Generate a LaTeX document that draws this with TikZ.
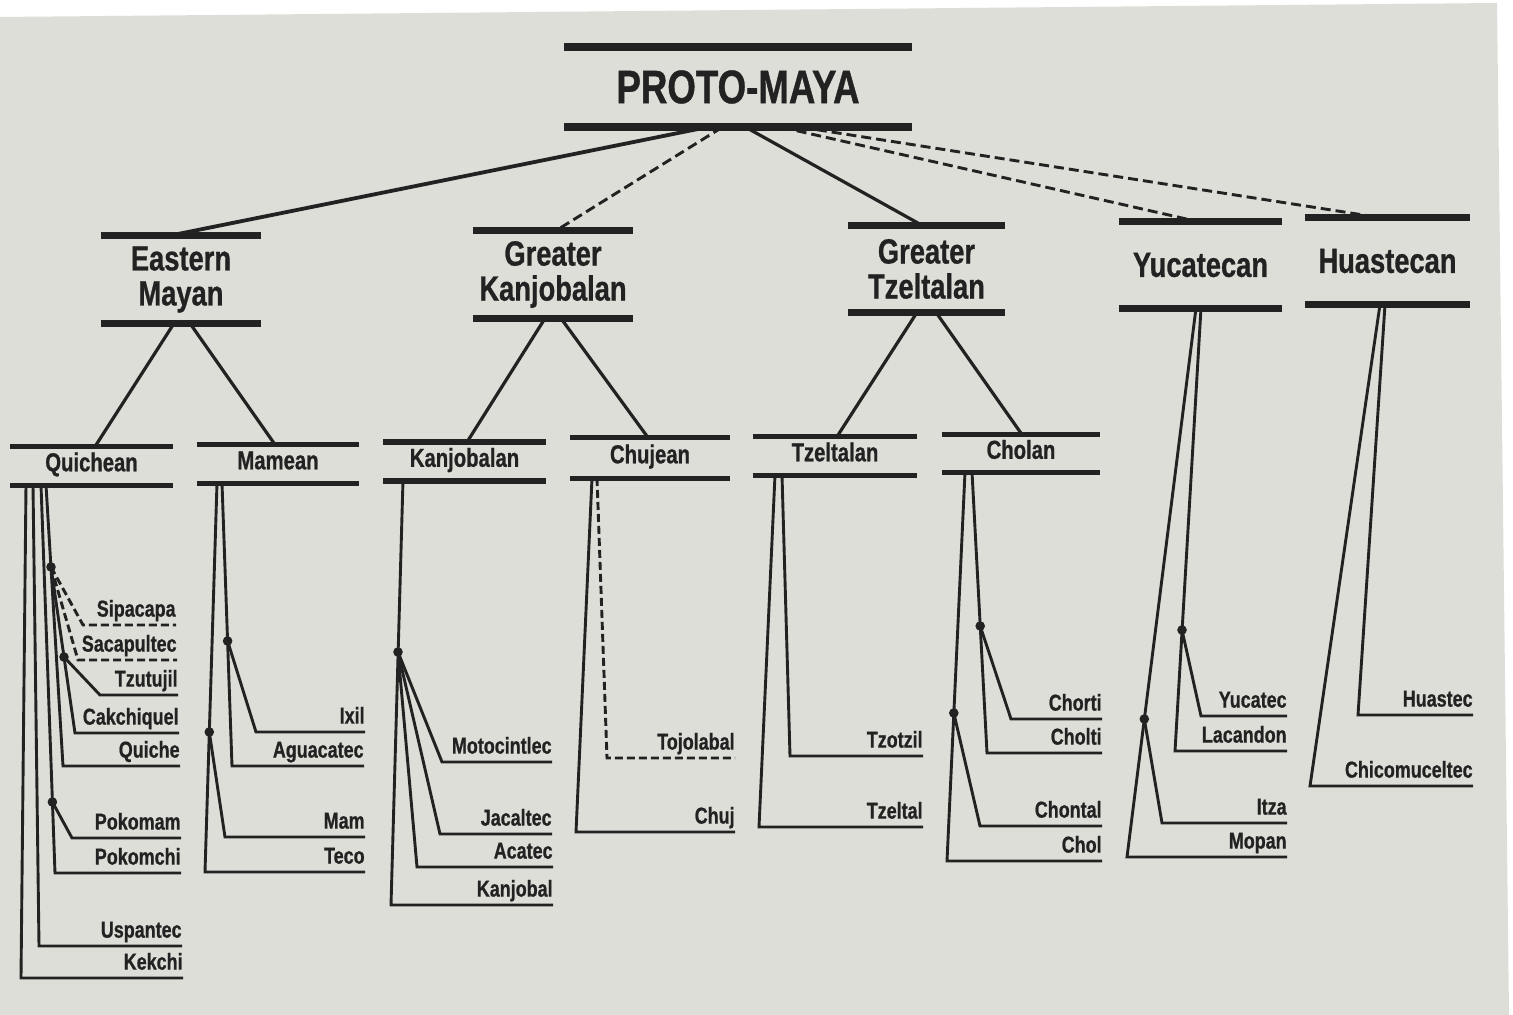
\documentclass[tikz,border=0pt]{standalone}
\usepackage{fontspec}
\setmainfont[FakeStretch=0.78,BoldFeatures={FakeBold=0.8}]{Liberation Sans}
\definecolor{paper}{RGB}{222,222,216}
\definecolor{ink}{RGB}{34,34,34}
\begin{document}
\begin{tikzpicture}[x=0.5pt,y=-0.5pt,
    bar/.style={ink,line width=3.2pt},
    twig/.style={ink,line width=1.45pt},
    guess/.style={twig,dash pattern=on 4pt off 2pt},
    tier/.style 2 args={inner sep=0pt,minimum width=#1pt,minimum height=#2pt,text=ink,align=center},
    root/.style={tier={174}{40},font=\bfseries\fontsize{23.5}{24}\selectfont},
    clade/.style={tier={80}{43.5},font=\bfseries\fontsize{17.5}{17.5}\selectfont},
    family/.style={tier={81}{19},text height=0.73em,text depth=0.2em,font=\bfseries\fontsize{13}{13}\selectfont},
    tongue/.style={anchor=south east,inner xsep=0pt,inner ysep=4pt,text depth=0pt,text=ink,font=\bfseries\fontsize{11.5}{12}\selectfont}]
    \fill[white] (0,0) rectangle (1513,1015) ;
    \fill[paper] (0,17) -- (1497,3) -- (1509,1015) -- (0,1015) -- cycle ;
    \useasboundingbox (0,0) rectangle (1513,1015) ;

    \node[root] (proto) at (738,87) {PROTO-MAYA} ;
    \node[clade] (eastern) at (181,279.5) {Eastern\\Mayan} ;
    \node[clade] (gkanjob) at (553,274.5) {Greater\\Kanjobalan} ;
    \node[clade,tier={78.5}{43}] (gtzeltal) at (926.5,269) {Greater\\Tzeltalan} ;
    \node[clade,tier={81.5}{43}] (yucatecan) at (1200.5,265) {Yucatecan} ;
    \node[clade,tier={82.5}{43}] (huastecan) at (1387.5,261) {Huastecan} ;
    \node[family] (quichean) at (91.5,466) {Quichean} ;
    \node[family] (mamean) at (278,464) {Mamean} ;
    \node[family] (kanjobalan) at (464.5,461.5) {Kanjobalan} ;
    \node[family,tier={80}{20}] (chujean) at (650,458) {Chujean} ;
    \node[family,tier={82}{19}] (tzeltalan) at (835,456) {Tzeltalan} ;
    \node[family,tier={79}{18.5}] (cholan) at (1021,453.5) {Cholan} ;

    \draw[bar,line width=4pt] (proto.north west) -- (proto.north east) (proto.south west) -- (proto.south east) ;
    \foreach \n in {eastern,gkanjob,gtzeltal,yucatecan,huastecan}
      \draw[bar] (\n.north west) -- (\n.north east) (\n.south west) -- (\n.south east) ;
    \foreach \n in {quichean,mamean,kanjobalan,chujean,tzeltalan,cholan}
      \draw[bar,line width=2.9pt] (\n.north west) -- (\n.north east) (\n.south west) -- (\n.south east) ;

    \draw[twig,line width=1.9pt] ([xshift=-16pt]proto.south) -- ([xshift=-5.5pt]eastern.north) ;
    \draw[guess,dash pattern=on 5pt off 2.5pt] ([xshift=-8pt]proto.south) -- ([xshift=1.5pt]gkanjob.north) ;
    \draw[twig,line width=1.6pt] ([xshift=4pt]proto.south) -- ([xshift=-2pt]gtzeltal.north) ;
    \draw[guess,dash pattern=on 5pt off 2.5pt] ([xshift=22pt]proto.south) -- ([xshift=-1.25pt]yucatecan.north) ;
    \draw[guess,dash pattern=on 5pt off 2.5pt] ([xshift=32pt]proto.south) -- ([xshift=-3.75pt]huastecan.north) ;

    \draw[twig,line width=1.6pt] ([xshift=-3.5pt]eastern.south) -- ([xshift=1.75pt]quichean.north) ;
    \draw[twig,line width=1.6pt] ([xshift=4.5pt]eastern.south) -- ([xshift=-1.5pt]mamean.north) ;
    \draw[twig,line width=1.6pt] ([xshift=-4pt]gkanjob.south) -- ([xshift=1.25pt]kanjobalan.north) ;
    \draw[twig,line width=1.6pt] ([xshift=4pt]gkanjob.south) -- ([xshift=-1pt]chujean.north) ;
    \draw[twig,line width=1.6pt] ([xshift=-4.75pt]gtzeltal.south) -- ([xshift=1pt]tzeltalan.north) ;
    \draw[twig,line width=1.6pt] ([xshift=4.75pt]gtzeltal.south) -- ([xshift=0.5pt]cholan.north) ;

    % Quichean
    \coordinate (qa) at (26,485) ;
    \coordinate (qb) at (33,485) ;
    \coordinate (qc) at (41,485) ;
    \coordinate (qd) at (46,485) ;
    \coordinate (qk1) at (51,567) ;
    \coordinate (qk2) at (64,657) ;
    \coordinate (qk3) at (52.4,802) ;
    \node[tongue] (sipacapa) at (176,625) {Sipacapa} ;
    \node[tongue] (sacapultec) at (177,660) {Sacapultec} ;
    \node[tongue] (tzutujil) at (178,695) {Tzutujil} ;
    \node[tongue] (cakchiquel) at (179,733) {Cakchiquel} ;
    \node[tongue] (quiche) at (180,766) {Quiche} ;
    \node[tongue] (pokomam) at (181,838) {Pokomam} ;
    \node[tongue] (pokomchi) at (181,873) {Pokomchi} ;
    \node[tongue] (uspantec) at (182,946) {Uspantec} ;
    \node[tongue] (kekchi) at (183,978) {Kekchi} ;
    \draw[guess] (qk1) -- (83,625) -- (sipacapa.south east) ;
    \draw[guess] (qk1) -- (78,660) -- (sacapultec.south east) ;
    \draw[twig] (qk2) -- (100,695) -- (tzutujil.south east) ;
    \draw[twig] (qk1) -- (75,733) -- (cakchiquel.south east) ;
    \draw[twig] (qd) -- (63,766) -- (quiche.south east) ;
    \draw[twig] (qk3) -- (72,838) -- (pokomam.south east) ;
    \draw[twig] (qc) -- (55,873) -- (pokomchi.south east) ;
    \draw[twig] (qb) -- (39,946) -- (uspantec.south east) ;
    \draw[twig] (qa) -- (21,978) -- (kekchi.south east) ;

    % Mamean
    \coordinate (ma) at (217,483) ;
    \coordinate (mb) at (222,483) ;
    \coordinate (mk1) at (209.3,732) ;
    \coordinate (mk2) at (227.6,641) ;
    \node[tongue] (ixil) at (365,732) {Ixil} ;
    \node[tongue] (aguacatec) at (364,766) {Aguacatec} ;
    \node[tongue] (mam) at (365,837) {Mam} ;
    \node[tongue] (teco) at (365,872) {Teco} ;
    \draw[twig] (mk2) -- (256,732) -- (ixil.south east) ;
    \draw[twig] (mb) -- (232,766) -- (aguacatec.south east) ;
    \draw[twig] (mk1) -- (225,837) -- (mam.south east) ;
    \draw[twig] (ma) -- (205,872) -- (teco.south east) ;

    % Kanjobalan
    \coordinate (ka) at (403,480) ;
    \coordinate (kk) at (398,652) ;
    \node[tongue] (motocintlec) at (552,762) {Motocintlec} ;
    \node[tongue] (jacaltec) at (552,834) {Jacaltec} ;
    \node[tongue] (acatec) at (553,867) {Acatec} ;
    \node[tongue] (kanjobal) at (553,905) {Kanjobal} ;
    \draw[twig] (kk) -- (442,762) -- (motocintlec.south east) ;
    \draw[twig] (kk) -- (440,834) -- (jacaltec.south east) ;
    \draw[twig] (kk) -- (417,867) -- (acatec.south east) ;
    \draw[twig] (ka) -- (391,905) -- (kanjobal.south east) ;

    % Chujean
    \coordinate (ca) at (592,478) ;
    \coordinate (cb) at (597,478) ;
    \node[tongue] (tojolabal) at (735,758) {Tojolabal} ;
    \node[tongue] (chuj) at (735,832) {Chuj} ;
    \draw[guess] (cb) -- (607,758) -- (tojolabal.south east) ;
    \draw[twig] (ca) -- (576,832) -- (chuj.south east) ;

    % Tzeltalan
    \coordinate (ta) at (775,475) ;
    \coordinate (tb) at (782,475) ;
    \node[tongue] (tzotzil) at (923,756) {Tzotzil} ;
    \node[tongue] (tzeltal) at (923,827) {Tzeltal} ;
    \draw[twig] (tb) -- (790,756) -- (tzotzil.south east) ;
    \draw[twig] (ta) -- (759,827) -- (tzeltal.south east) ;

    % Cholan
    \coordinate (ha) at (965,472) ;
    \coordinate (hb) at (972,472) ;
    \coordinate (hk1) at (953.8,713) ;
    \coordinate (hk2) at (980.2,626) ;
    \node[tongue] (chorti) at (1102,719) {Chorti} ;
    \node[tongue] (cholti) at (1102,753) {Cholti} ;
    \node[tongue] (chontal) at (1102,826) {Chontal} ;
    \node[tongue] (chol) at (1102,861) {Chol} ;
    \draw[twig] (hk2) -- (1011,719) -- (chorti.south east) ;
    \draw[twig] (hb) -- (987,753) -- (cholti.south east) ;
    \draw[twig] (hk1) -- (980,826) -- (chontal.south east) ;
    \draw[twig] (ha) -- (947,861) -- (chol.south east) ;

    % Yucatecan
    \coordinate (ya) at (1196,308) ;
    \coordinate (yb) at (1201,308) ;
    \coordinate (yk1) at (1144.3,719) ;
    \coordinate (yk2) at (1182,630) ;
    \node[tongue] (yucatec) at (1287,716) {Yucatec} ;
    \node[tongue] (lacandon) at (1287,751) {Lacandon} ;
    \node[tongue] (itza) at (1287,823) {Itza} ;
    \node[tongue] (mopan) at (1287,857) {Mopan} ;
    \draw[twig] (yk2) -- (1201,716) -- (yucatec.south east) ;
    \draw[twig] (yb) -- (1175,751) -- (lacandon.south east) ;
    \draw[twig] (yk1) -- (1162,823) -- (itza.south east) ;
    \draw[twig] (ya) -- (1127,857) -- (mopan.south east) ;

    % Huastecan
    \coordinate (sa) at (1380,304.5) ;
    \coordinate (sb) at (1385,304.5) ;
    \node[tongue] (huastec) at (1473,715) {Huastec} ;
    \node[tongue] (chicomuceltec) at (1473,786) {Chicomuceltec} ;
    \draw[twig] (sb) -- (1358,715) -- (huastec.south east) ;
    \draw[twig] (sa) -- (1310,786) -- (chicomuceltec.south east) ;

    \foreach \k in {qk1,qk2,qk3,mk1,mk2,kk,hk1,hk2,yk1,yk2}
      \fill[ink] (\k) circle (2.4pt) ;
  \end{tikzpicture}
\end{document}
